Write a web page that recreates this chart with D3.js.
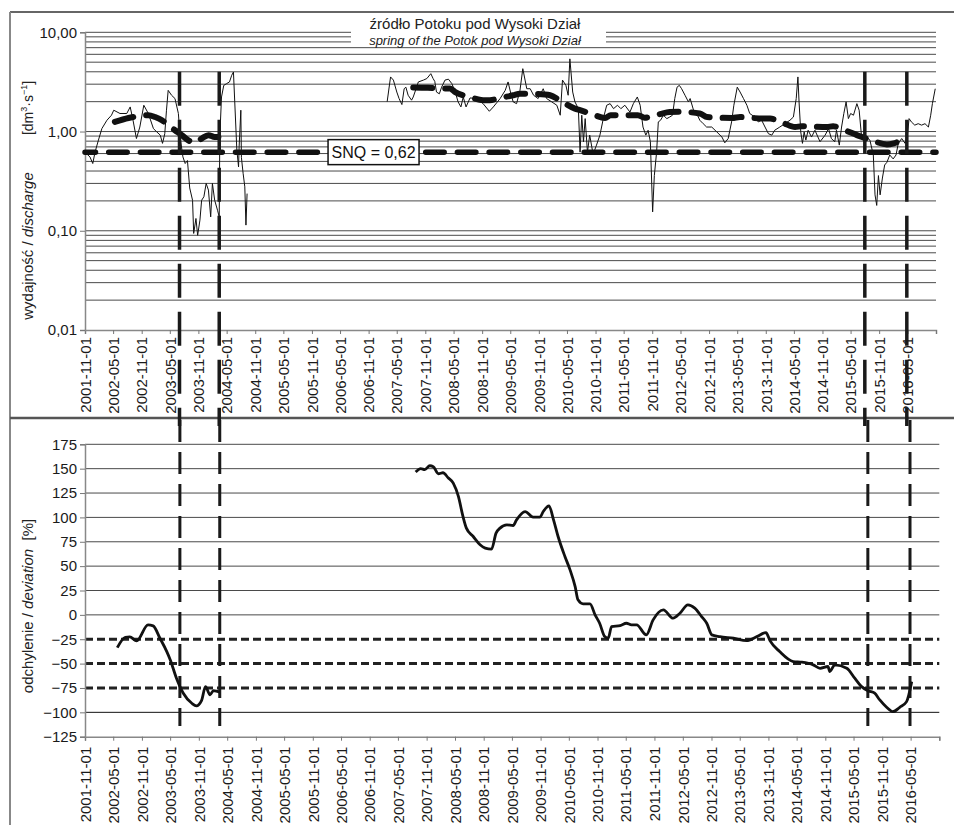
<!DOCTYPE html>
<html>
<head>
<meta charset="utf-8">
<script src="https://cdn.jsdelivr.net/npm/d3@7"></script>
<style>
  body { margin: 0; background: #fff; }
  svg { display: block; font-family: "Liberation Sans", Arial, sans-serif; }
</style>
</head>
<body>
<div id="chart"></div>
<script>
// values, dates as decimal years
var dischargeA = [[2001.83,0.62],[2001.92,0.555],[2001.97,0.476],[2002.01,0.62],[2002.07,0.82],[2002.13,1.07],[2002.22,1.30],[2002.30,1.46],[2002.34,1.64],[2002.45,1.52],[2002.57,1.52],[2002.63,1.77],[2002.68,1.30],[2002.74,0.85],[2002.80,1.11],[2002.87,1.84],[2002.95,1.52],[2003.04,1.07],[2003.10,0.99],[2003.16,0.92],[2003.20,0.76],[2003.24,0.95],[2003.27,1.64],[2003.30,2.6],[2003.36,2.32],[2003.42,2.15],[2003.48,1.52],[2003.51,0.88],[2003.56,0.555],[2003.60,0.476],[2003.64,0.51],[2003.68,0.27],[2003.73,0.203],[2003.75,0.094],[2003.79,0.133],[2003.82,0.090],[2003.86,0.128],[2003.89,0.203],[2003.93,0.22],[2003.97,0.30],[2004.01,0.257],[2004.05,0.138],[2004.08,0.30],[2004.12,0.203],[2004.17,0.161],[2004.20,0.138],[2004.21,0.88],[2004.24,2.23],[2004.28,2.92],[2004.33,3.04],[2004.38,3.16],[2004.42,3.69],[2004.45,3.98],[2004.51,0.65],[2004.54,0.44],[2004.55,0.70],[2004.58,1.64],[2004.59,0.55],[2004.62,0.38],[2004.65,0.277],[2004.67,0.114],[2004.69,0.237]];

var dischargeB = [[2007.16,2.0],[2007.22,3.55],[2007.27,3.3],[2007.33,2.5],[2007.37,2.15],[2007.42,1.87],[2007.46,2.7],[2007.49,2.8],[2007.53,2.32],[2007.59,2.07],[2007.62,2.23],[2007.67,2.7],[2007.71,3.16],[2007.80,3.3],[2007.86,3.42],[2007.93,3.83],[2007.97,3.42],[2008.00,3.2],[2008.03,2.5],[2008.08,2.4],[2008.12,2.8],[2008.18,3.3],[2008.24,3.37],[2008.30,3.04],[2008.36,2.5],[2008.41,1.99],[2008.46,1.77],[2008.50,2.23],[2008.55,1.77],[2008.62,2.18],[2008.74,2.15],[2008.85,1.91],[2008.96,1.6],[2009.03,1.77],[2009.15,2.15],[2009.24,2.6],[2009.29,3.16],[2009.34,2.4],[2009.38,1.99],[2009.44,1.91],[2009.50,2.6],[2009.55,4.3],[2009.59,3.3],[2009.62,2.7],[2009.68,2.7],[2009.74,2.32],[2009.82,2.15],[2009.91,2.7],[2009.97,2.15],[2010.06,1.99],[2010.15,1.84],[2010.21,1.46],[2010.25,3.3],[2010.31,2.92],[2010.35,2.32],[2010.38,5.4],[2010.43,2.5],[2010.47,1.99],[2010.53,1.70],[2010.56,0.62],[2010.59,1.46],[2010.62,0.79],[2010.65,1.35],[2010.69,0.62],[2010.73,0.92],[2010.79,0.59],[2010.85,0.73],[2010.91,0.92],[2010.97,1.35],[2011.03,1.84],[2011.09,1.91],[2011.15,1.70],[2011.22,1.84],[2011.28,1.70],[2011.35,1.84],[2011.44,1.57],[2011.50,1.91],[2011.57,2.23],[2011.62,1.84],[2011.67,1.11],[2011.72,0.92],[2011.76,1.03],[2011.80,0.79],[2011.84,0.155],[2011.87,0.36],[2011.91,0.62],[2011.94,1.25],[2011.98,1.30],[2012.03,1.46],[2012.09,1.35],[2012.14,1.40],[2012.19,1.46],[2012.23,2.15],[2012.27,2.8],[2012.31,2.92],[2012.35,2.7],[2012.41,2.32],[2012.47,1.99],[2012.50,2.15],[2012.56,1.64],[2012.63,1.46],[2012.67,1.30],[2012.73,1.20],[2012.79,1.11],[2012.88,1.11],[2012.97,0.99],[2013.06,0.88],[2013.11,0.77],[2013.17,0.85],[2013.23,1.25],[2013.27,1.84],[2013.33,2.8],[2013.38,2.5],[2013.44,2.15],[2013.50,1.84],[2013.55,1.52],[2013.64,1.40],[2013.70,1.25],[2013.76,1.30],[2013.82,1.11],[2013.88,0.95],[2013.94,0.92],[2013.99,1.03],[2014.08,1.11],[2014.17,1.20],[2014.26,1.30],[2014.32,1.40],[2014.37,2.15],[2014.40,3.55],[2014.42,1.99],[2014.45,0.99],[2014.48,0.76],[2014.51,0.99],[2014.54,0.82],[2014.58,1.03],[2014.64,0.88],[2014.70,1.03],[2014.79,0.79],[2014.88,0.92],[2014.94,1.07],[2014.99,0.85],[2015.05,0.79],[2015.08,1.03],[2015.13,0.73],[2015.17,1.11],[2015.21,1.52],[2015.25,1.99],[2015.29,1.35],[2015.33,1.52],[2015.38,1.46],[2015.44,1.91],[2015.48,1.64],[2015.52,0.92],[2015.56,0.85],[2015.61,0.88],[2015.67,0.82],[2015.73,0.58],[2015.76,0.23],[2015.79,0.18],[2015.82,0.36],[2015.85,0.23],[2015.89,0.34],[2015.93,0.46],[2015.97,0.49],[2016.02,0.58],[2016.08,0.53],[2016.13,0.58],[2016.17,0.76],[2016.23,0.85],[2016.29,0.76],[2016.33,0.92],[2016.36,1.35],[2016.40,1.25],[2016.46,1.16],[2016.52,1.20],[2016.58,1.16],[2016.64,1.20],[2016.70,1.11],[2016.74,1.46],[2016.77,1.91],[2016.82,2.7]];

// moving mean of discharge (thick dashed)
var meanA = [[2002.36,1.25],[2002.60,1.37],[2002.80,1.43],[2002.95,1.46],[2003.07,1.40],[2003.19,1.30],[2003.30,1.16],[2003.42,1.03],[2003.54,0.92],[2003.65,0.82],[2003.77,0.77],[2003.89,0.85],[2004.01,0.92],[2004.12,0.88],[2004.21,0.88]];
var meanB = [[2007.62,2.78],[2007.88,2.76],[2008.09,2.71],[2008.27,2.71],[2008.36,2.5],[2008.62,2.23],[2008.85,2.07],[2008.97,2.07],[2009.15,2.18],[2009.38,2.32],[2009.50,2.41],[2009.94,2.36],[2010.03,2.32],[2010.24,2.0],[2010.47,1.70],[2010.56,1.64],[2010.77,1.50],[2011.00,1.37],[2011.10,1.46],[2011.58,1.46],[2011.70,1.38],[2011.97,1.50],[2012.14,1.57],[2012.32,1.58],[2012.67,1.52],[2012.80,1.40],[2013.24,1.37],[2013.38,1.40],[2013.78,1.35],[2013.91,1.35],[2014.14,1.22],[2014.35,1.11],[2014.47,1.13],[2014.91,1.11],[2015.02,1.13],[2015.23,1.03],[2015.44,0.92],[2015.53,0.88],[2015.74,0.80],[2015.97,0.74],[2016.09,0.76],[2016.32,0.88]];

// deviation [%]
var deviationA = [[2002.40,-33.6],[2002.54,-23],[2002.62,-22.6],[2002.74,-26.7],[2002.94,-10.3],[2003.03,-11.3],[2003.15,-24],[2003.27,-37.7],[2003.33,-46],[2003.44,-65],[2003.56,-80.4],[2003.71,-90.7],[2003.79,-93.4],[2003.88,-88],[2003.95,-73.6],[2004.03,-82],[2004.09,-77.7],[2004.17,-78.7],[2004.20,-79]];
var deviationB = [[2007.64,146.5],[2007.73,150],[2007.80,149],[2007.89,153],[2007.95,152],[2008.04,144.8],[2008.12,145.8],[2008.21,140.7],[2008.30,135.2],[2008.39,121.5],[2008.47,101],[2008.53,89],[2008.65,80.4],[2008.77,71.9],[2008.86,68.5],[2008.97,67.4],[2009.05,83.9],[2009.12,89],[2009.24,92.4],[2009.35,91.7],[2009.41,97.5],[2009.56,106],[2009.70,100.3],[2009.82,100.3],[2009.88,106],[2009.98,111.9],[2010.06,97.5],[2010.14,80.4],[2010.26,59.9],[2010.35,46.2],[2010.44,29],[2010.49,15.4],[2010.58,11.3],[2010.70,11.3],[2010.79,0],[2010.87,-8.6],[2010.96,-22.3],[2011.02,-24],[2011.08,-12],[2011.23,-11],[2011.34,-8.6],[2011.43,-10.3],[2011.52,-10.3],[2011.69,-20.5],[2011.81,-5.1],[2011.99,5.1],[2012.16,-3.4],[2012.28,1.7],[2012.42,10.3],[2012.54,6.9],[2012.66,-1.7],[2012.75,-8.6],[2012.84,-20.5],[2012.98,-22.3],[2013.22,-24],[2013.45,-26.4],[2013.63,-22.3],[2013.79,-18.2],[2013.86,-26.4],[2014.03,-37.6],[2014.27,-47.9],[2014.42,-48.6],[2014.62,-51.3],[2014.74,-54.8],[2014.88,-53],[2014.91,-58.2],[2015.00,-51.3],[2015.21,-54.8],[2015.35,-65],[2015.47,-73.6],[2015.59,-78],[2015.70,-80.4],[2015.79,-87.3],[2015.91,-94.8],[2016.02,-99.3],[2016.14,-94.8],[2016.26,-89],[2016.35,-68.5]];

var droughts = [[2003.50, 2004.20], [2015.58, 2016.32]];
var snq = 0.62;
var snqLabel = 'SNQ = 0,62';
var snqLabelYear = 2006.92;
var qTicks = [0.01, 0.1, 1, 10];
var devTicks = [-125, -100, -75, -50, -25, 0, 25, 50, 75, 100, 125, 150, 175];
var devLimits = [-25, -50, -75];
var title = 'źródło Potoku pod Wysoki Dział';
var subtitle = 'spring of the Potok pod Wysoki Dział';

var W = 954, H = 825;
var divider = 418;
var pTop = {left: 85, right: 936, top: 32.3, bottom: 330};
var pBot = {left: 85, right: 939.3, top: 444.3, bottom: 736.7};

function toDate(y) {
	var yr = Math.floor(y);
	var a = new Date(yr, 0, 1), b = new Date(yr + 1, 0, 1);
	return new Date(+a + (y - yr) * (b - a));
}

var svg = d3.select('#chart')
	.append('svg')
	.attr('width', W)
	.attr('height', H)

var start = new Date(2001, 10, 1), end = new Date(2016, 10, 1);
var tickDates = d3.timeMonth.range(start, new Date(2016, 10, 2), 6);
var fmt = d3.timeFormat('%Y-%m-%d');

var xTop = d3.scaleTime().domain([start, end]).range([pTop.left, pTop.right]);
var yQ = d3.scaleLog().domain([0.01, 10]).range([pTop.bottom, pTop.top]);
var xBot = d3.scaleTime().domain([start, end]).range([pBot.left, pBot.right]);
var yDev = d3.scaleLinear().domain([-125, 175]).range([pBot.bottom, pBot.top]);

// frame
svg.append('line').attr('x1', 10).attr('x2', W).attr('y1', 12).attr('y2', 12)
	.attr('stroke', '#333').attr('stroke-width', 1.5)
svg.append('line').attr('x1', 10).attr('x2', 10).attr('y1', 12).attr('y2', H)
	.attr('stroke', '#888').attr('stroke-width', 2)
svg.append('line').attr('x1', 10).attr('x2', W).attr('y1', divider).attr('y2', divider)
	.attr('stroke', '#555').attr('stroke-width', 2.5)

// ---- top panel: discharge ----
var grid = [];
for (var e = -2; e <= 0; e++) {
	for (var k = 1; k <= 9; k++) grid.push(+(k * Math.pow(10, e)).toPrecision(3));
}
grid.push(10);

svg.append('g').selectAll('line')
	.data(grid.filter(function(d) { return d > 0.01; }))
	.enter().append('line')
	.attr('x1', pTop.left).attr('x2', pTop.right)
	.attr('y1', function(d) { return yQ(d); })
	.attr('y2', function(d) { return yQ(d); })
	.attr('stroke', '#4a4a4a')
	.attr('stroke-width', 1)

// title, on a white patch over the grid
svg.append('rect')
	.attr('x', 351).attr('y', 19).attr('width', 255).attr('height', 27)
	.attr('fill', '#fff')
svg.append('text')
	.attr('x', 475).attr('y', 29)
	.attr('text-anchor', 'middle')
	.style('font-size', '15px')
	.attr('fill', '#222')
	.text(title)
svg.append('text')
	.attr('x', 475).attr('y', 45)
	.attr('text-anchor', 'middle')
	.style('font-size', '13px')
	.style('font-style', 'italic')
	.attr('fill', '#222')
	.text(subtitle)

function styleAxis(g) {
	g.select('.domain').attr('stroke', '#888').attr('stroke-width', 1.5)
	g.selectAll('.tick line').attr('stroke', '#777')
	g.selectAll('.tick text').style('font-size', '15px').attr('fill', '#1a1a1a')
}

function xAxis(x, y, gap) {
	var g = svg.append('g')
		.attr('transform', 'translate(0,' + y + ')')
		.call(d3.axisBottom(x)
			.tickValues(tickDates)
			.tickSize(4)
			.tickFormat(function(d, i) { return i < tickDates.length - 1 ? fmt(d) : ''; }))
	g.call(styleAxis)
	g.selectAll('.tick text')
		.attr('transform', 'rotate(-90)')
		.attr('x', -gap)
		.attr('y', 0)
		.attr('dy', '0.35em')
		.style('text-anchor', 'end')
}

xAxis(xTop, pTop.bottom, 7)

svg.append('g')
	.attr('transform', 'translate(' + pTop.left + ',0)')
	.call(d3.axisLeft(yQ)
		.tickValues(qTicks)
		.tickSize(5)
		.tickPadding(3)
		.tickFormat(function(d) { return d3.format('.2f')(d).replace('.', ','); }))
	.call(styleAxis)

// y title
var yt1 = svg.append('text')
	.attr('transform', 'translate(33,246) rotate(-90)')
	.attr('text-anchor', 'middle')
	.style('font-size', '15px')
	.attr('fill', '#222')
yt1.append('tspan').text('wydajność / ')
yt1.append('tspan').style('font-style', 'italic').text('discharge')

var yt2 = svg.append('text')
	.attr('transform', 'translate(33,108) rotate(-90)')
	.attr('text-anchor', 'middle')
	.style('font-size', '14px')
	.attr('fill', '#222')
yt2.append('tspan').text('[dm')
yt2.append('tspan').attr('dy', -6).style('font-size', '9px').text('3')
yt2.append('tspan').attr('dy', 6).text('·s')
yt2.append('tspan').attr('dy', -6).style('font-size', '9px').text('−1')
yt2.append('tspan').attr('dy', 6).text(']')

// SNQ
svg.append('line')
	.attr('x1', pTop.left).attr('x2', pTop.right)
	.attr('y1', yQ(snq)).attr('y2', yQ(snq))
	.attr('stroke', '#111')
	.attr('stroke-width', 5.5)
	.attr('stroke-linecap', 'round')
	.attr('stroke-dasharray', '18.5,13.2')
	.attr('stroke-dashoffset', 8)

var lineQ = d3.line()
	.x(function(d) { return xTop(toDate(d[0])); })
	.y(function(d) { return yQ(d[1]); })

;[dischargeA, dischargeB].forEach(function(s) {
	svg.append('path')
		.datum(s)
		.attr('fill', 'none')
		.attr('stroke', '#111')
		.attr('stroke-width', 1)
		.attr('stroke-linejoin', 'round')
		.attr('d', lineQ)
})

var lineMean = d3.line()
	.x(function(d) { return xTop(toDate(d[0])); })
	.y(function(d) { return yQ(d[1]); })
	.curve(d3.curveMonotoneX)

;[meanA, meanB].forEach(function(s) {
	svg.append('path')
		.datum(s)
		.attr('fill', 'none')
		.attr('stroke', '#111')
		.attr('stroke-width', 6)
		.attr('stroke-linecap', 'round')
		.attr('stroke-dasharray', '19,13')
		.attr('d', lineMean)
})

// drought limits, top panel
droughts.forEach(function(p) {
	p.forEach(function(y) {
		svg.append('line')
			.attr('x1', xTop(toDate(y))).attr('x2', xTop(toDate(y)))
			.attr('y1', yQ(4)).attr('y2', divider + 8)
			.attr('stroke', '#1a1a1a')
			.attr('stroke-width', 3.5)
			.attr('stroke-dasharray', '34,14')
	})
})

// SNQ label box
var lx = xTop(toDate(snqLabelYear)), ly = yQ(snq);
svg.append('rect')
	.attr('x', lx - 45.5).attr('y', ly - 12.5)
	.attr('width', 91).attr('height', 25)
	.attr('fill', '#fff')
	.attr('stroke', '#111')
	.attr('stroke-width', 1.5)
svg.append('text')
	.attr('x', lx).attr('y', ly + 6)
	.attr('text-anchor', 'middle')
	.style('font-size', '16px')
	.attr('fill', '#111')
	.text(snqLabel)

// ---- bottom panel: deviation ----
svg.append('g').selectAll('line')
	.data(devTicks.filter(function(d) { return d > -125 && devLimits.indexOf(d) < 0; }))
	.enter().append('line')
	.attr('x1', pBot.left).attr('x2', pBot.right)
	.attr('y1', function(d) { return yDev(d); })
	.attr('y2', function(d) { return yDev(d); })
	.attr('stroke', function(d) { return d == -100 ? '#111' : '#4a4a4a'; })
	.attr('stroke-width', 1)

svg.append('g').selectAll('line')
	.data(devLimits)
	.enter().append('line')
	.attr('x1', pBot.left).attr('x2', pBot.right)
	.attr('y1', function(d) { return yDev(d); })
	.attr('y2', function(d) { return yDev(d); })
	.attr('stroke', '#222')
	.attr('stroke-width', 3)
	.attr('stroke-dasharray', '8,4')

xAxis(xBot, pBot.bottom, 10)

svg.append('g')
	.attr('transform', 'translate(' + pBot.left + ',0)')
	.call(d3.axisLeft(yDev).tickValues(devTicks).tickSize(5).tickPadding(3))
	.call(styleAxis)

var yt3 = svg.append('text')
	.attr('transform', 'translate(33,606) rotate(-90)')
	.attr('text-anchor', 'middle')
	.style('font-size', '15px')
	.style('white-space', 'pre')
	.attr('fill', '#222')
yt3.append('tspan').text('odchylenie / ')
yt3.append('tspan').style('font-style', 'italic').text('deviation')
yt3.append('tspan').text('  [%]')

droughts.forEach(function(p) {
	p.forEach(function(y) {
		svg.append('line')
			.attr('x1', xBot(toDate(y))).attr('x2', xBot(toDate(y)))
			.attr('y1', divider + 2).attr('y2', yDev(-114))
			.attr('stroke', '#1a1a1a')
			.attr('stroke-width', 3)
			.attr('stroke-dasharray', '22,10')
	})
})

var lineDev = d3.line()
	.x(function(d) { return xBot(toDate(d[0])); })
	.y(function(d) { return yDev(d[1]); })
	.curve(d3.curveMonotoneX)

;[deviationA, deviationB].forEach(function(s) {
	svg.append('path')
		.datum(s)
		.attr('fill', 'none')
		.attr('stroke', '#111')
		.attr('stroke-width', 2.8)
		.attr('stroke-linejoin', 'round')
		.attr('d', lineDev)
})
</script>
</body>
</html>
